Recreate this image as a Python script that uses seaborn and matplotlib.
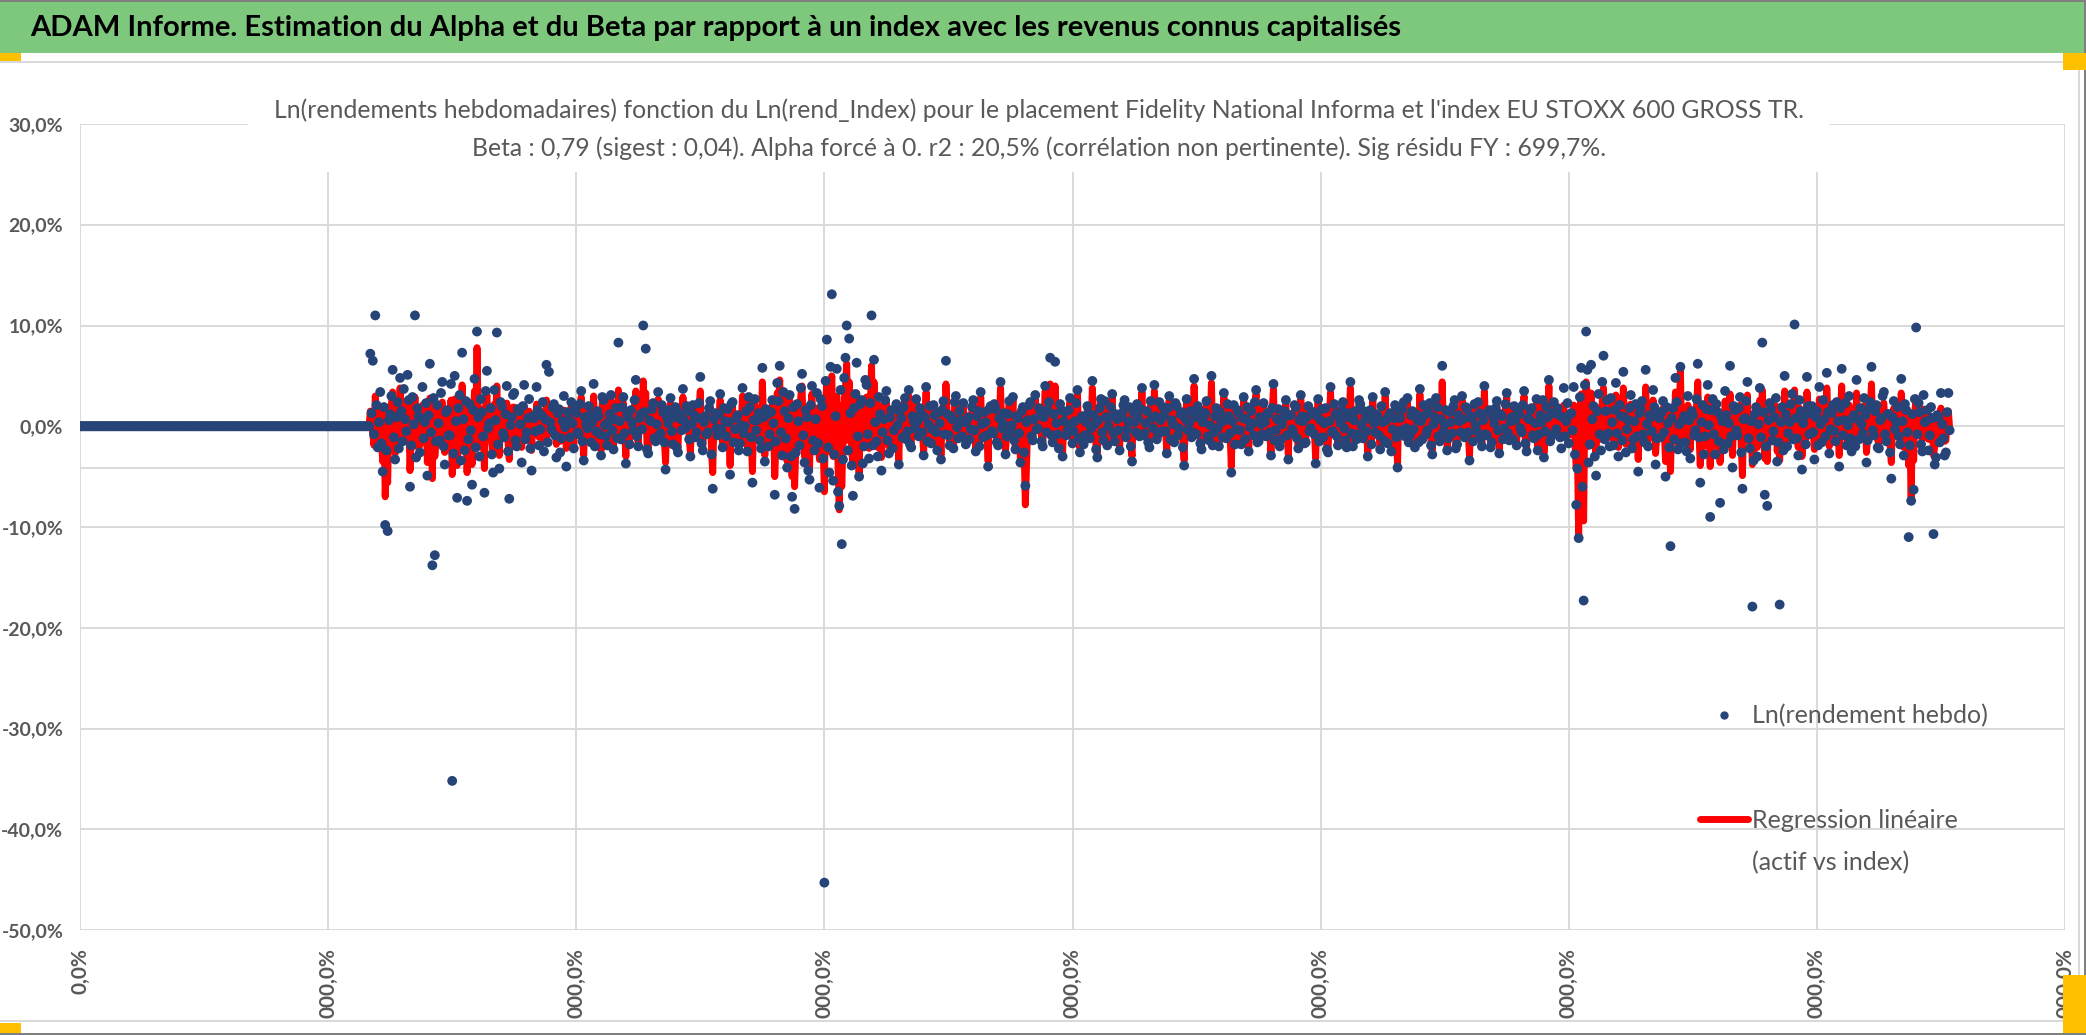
import numpy as np
import pandas as pd
import matplotlib.pyplot as plt
import seaborn as sns
from matplotlib.patches import Rectangle
from matplotlib.lines import Line2D

# -------------------------------
# Donnees (en %), une valeur par semaine
# -------------------------------
# semaines avant la cotation : rendement nul
avant_cotation = [
    0, 0, 0, 0, 0, 0, 0, 0, 0, 0, 0, 0, 0, 0, 0, 0, 0, 0, 0, 0,
    0, 0, 0, 0, 0, 0, 0, 0, 0, 0, 0, 0, 0, 0, 0, 0, 0, 0, 0, 0,
    0, 0, 0, 0, 0, 0, 0, 0, 0, 0, 0, 0, 0, 0, 0, 0, 0, 0, 0, 0,
    0, 0, 0, 0, 0, 0, 0, 0, 0, 0, 0, 0, 0, 0, 0, 0, 0, 0, 0, 0,
    0, 0, 0, 0, 0, 0, 0, 0, 0, 0, 0, 0, 0, 0, 0, 0, 0, 0, 0, 0,
    0, 0, 0, 0, 0, 0, 0, 0, 0, 0, 0, 0, 0, 0, 0, 0, 0, 0, 0, 0,
    0, 0, 0, 0, 0, 0, 0, 0, 0, 0, 0, 0, 0, 0, 0, 0, 0, 0, 0, 0,
    0, 0, 0, 0, 0, 0, 0, 0, 0, 0, 0, 0, 0, 0, 0, 0, 0, 0, 0, 0,
    0, 0, 0, 0, 0, 0, 0, 0, 0, 0, 0, 0, 0, 0, 0, 0, 0, 0, 0, 0,
    0, 0, 0, 0, 0, 0, 0, 0, 0, 0, 0, 0, 0, 0, 0, 0, 0, 0, 0, 0,
    0, 0, 0, 0, 0, 0, 0, 0, 0, 0, 0, 0, 0, 0, 0, 0, 0, 0, 0, 0,
    0, 0, 0, 0, 0, 0, 0, 0, 0, 0, 0, 0, 0, 0,
]

# Ln(rendement hebdo) de l'actif
rend_actif = [
    7.2, 1.3, 6.5, -0.8, 11.0, 2.1, -2.1, 0.4, 3.4, -1.7, -4.5, 1.9, -9.8, -2.4, -10.4, 0.6, 1.2, 3.0, 5.6, -1.1,
    -3.3, 0.9, 2.4, -2.2, 4.8, 1.5, -1.5, 3.7, 0.7, -0.5, 5.1, 2.6, -6.0, -1.9, 2.9, 0.2, 11.0, -3.1, 1.8, 1.0,
    -2.6, 0.8, 3.9, -1.2, 0.4, 2.3, -4.9, 1.1, 6.2, -0.6, -13.8, 2.8, -12.8, -1.5, 2.1, 0.3, -1.4, 3.3, 4.4, -2.0,
    -3.8, 1.4, 1.6, -0.9, -0.9, 4.2, -35.2, -2.7, 5.0, 0.5, -7.1, 1.8, 3.1, -3.4, 7.3, 0.7, -2.4, 2.5, -7.4, -1.3,
    2.2, -0.4, -5.8, 1.6, 4.7, -2.1, 9.4, 0.9, -3.0, 2.7, 1.4, -1.0, -6.6, 3.5, 5.5, -0.2, 0.3, 1.8, -2.8, -4.6,
    3.6, 0.6, 9.3, -1.8, -4.2, 2.4, 2.0, -0.7, -1.1, 1.2, 4.0, -2.5, -7.2, 0.1, 0.9, 3.1, 3.3, -1.4, -2.0, 1.7,
    1.5, 0.2, -3.6, 2.0, 4.1, -1.3, -0.6, 0.8, 2.7, -2.2, -4.4, 1.0, 0.8, -0.5, 3.9, 1.6, -1.9, -0.3, 1.1, 2.4,
    -2.5, 0.7, 6.1, -1.6, 5.4, 0.4, -0.3, 1.9, 2.2, -0.9, -3.1, 1.3, 1.7, -2.6, -1.2, 0.5, 3.0, -0.1, -4.0, 1.4,
    0.6, -1.1, 2.4, 0.3, -2.2, 1.7, 1.3, -0.6, -0.8, 2.2, 3.5, -1.5, -3.4, 0.9, 0.2, -0.2, 2.0, 1.1, -1.6, 0.4,
    4.2, -2.0, -0.5, 1.5, 1.0, -0.8, -2.9, 2.9, 2.6, 0.1, -1.0, -1.9, 0.4, 1.2, 3.1, -0.4, -2.3, 0.7, 1.8, -1.2,
    8.3, 0.5, -1.3, 1.9, 2.9, -0.7, -3.7, 1.2, 0.9, -1.8, 1.6, 0.3, -0.4, 2.6, 4.6, -1.0, -2.0, 0.8, 1.2, -0.3,
    10.0, 1.4, 7.7, -2.3, -2.7, 0.6, 0.5, 1.7, 2.3, -1.2, -1.5, 0.2, 3.4, -0.9, -0.7, 2.1, 1.4, -1.6, -4.3, 0.9,
    0.3, 1.6, 2.8, -0.5, -1.8, 0.9, 1.9, -2.1, -2.6, 1.3, 0.7, -0.4, 3.7, 0.6, -0.2, 2.0, 1.5, -1.3, -3.0, 0.2,
    2.1, 1.1, -1.1, -0.6, 0.8, 2.3, 4.9, -1.7, -2.4, 0.4, 1.0, -0.8, -0.6, 1.8, 2.5, -2.8, -6.2, 0.7, 1.3, -0.2,
    -0.9, 1.2, 3.2, -0.3, -2.1, 1.8, 0.5, -1.0, 1.7, 0.4, -4.8, 2.2, 2.4, -1.6, -0.3, 0.8, 1.1, -2.4, -1.7, 0.1,
    3.8, -0.7, 0.0, 1.5, -2.5, 2.9, 1.9, -1.1, -5.6, 0.6, 2.7, -0.4, 0.6, 1.3, -1.4, -2.2, 5.8, 0.9, -3.5, 1.7,
    1.2, -2.0, -0.8, 1.4, 2.6, 0.3, -6.8, -1.5, 4.3, 2.5, 6.0, -0.6, -2.9, 3.4, 1.5, -1.2, -4.1, 0.8, 3.1, -3.0,
    -7.0, 1.9, -8.2, -2.6, 2.2, 0.5, -1.9, 3.8, 5.2, -0.9, -3.6, 1.6, 0.9, -4.4, -5.3, 2.1, 4.0, -1.4, -2.4, 0.7,
    3.3, -1.7, -6.1, 2.7, 2.0, -3.2, -45.3, 4.5, 8.6, -2.1, -4.6, 5.9, 13.1, -5.4, -2.8, 1.0, 5.7, -6.5, -7.9, 3.6,
    -11.7, -3.3, 4.8, 6.8, 10.0, -2.4, 8.7, 1.3, -3.9, -6.9, 1.8, 3.2, 6.3, -1.0, -5.0, 2.2, 2.6, -3.7, -2.0, 4.6,
    4.1, -0.8, -3.2, 2.3, 11.0, -1.9, 6.6, 0.4, -1.5, -3.0, 2.9, 1.2, -4.4, -0.6, 0.7, 2.6, 3.5, -1.4, -2.7, 0.9,
    1.6, -2.2, -0.4, 1.7, 2.2, 0.1, -3.8, 1.5, 0.8, -1.1, 1.9, 2.8, -1.3, -0.5, 3.6, -1.8, -2.1, 1.0, 0.5, -0.2,
    2.7, 0.5, -1.0, 1.8, 1.3, -0.6, -2.9, 0.9, 3.9, -1.5, 0.2, 2.0, -1.7, -0.3, 2.1, 1.1, -0.6, -2.4, 1.4, 0.3,
    -3.3, 1.6, 2.5, -0.8, 6.5, 1.2, -0.9, -1.9, 1.0, 0.7, -2.2, 2.4, 3.0, -0.1, -1.2, 1.5, 0.6, -1.0, 2.3, 0.4,
    -1.8, 0.6, 0.9, -1.3, -0.3, 1.9, 2.6, -0.4, -2.5, 1.0, 1.5, -2.0, 3.4, 0.2, -1.1, 1.4, 0.4, -0.9, -4.0, 1.7,
    2.0, -0.5, -0.7, 2.2, 1.7, -1.6, -1.9, 0.8, 4.4, -0.2, 0.3, 1.3, -2.8, -1.0, 1.2, 2.5, -0.5, 0.1, 2.9, -1.4,
    -2.3, 1.0, 0.8, -0.7, -3.6, 1.5, 1.9, -2.6, -5.9, 0.4, 0.6, 2.1, 2.4, -1.0, -1.4, 0.7, 3.1, -0.3, -0.2, 1.8,
    1.1, -1.5, -2.0, 0.9, 4.0, -0.6, 1.6, 2.4, 6.8, -0.9, -1.6, 1.2, 6.4, 0.3, -0.8, -2.2, 2.2, 1.6, -3.0, 0.5,
    1.4, -0.9, -0.4, 1.6, 2.8, 0.2, -1.7, -0.5, 0.5, 2.3, 3.6, -1.2, -2.6, 0.8, 1.0, -1.8, -0.9, 0.4, 2.0, 1.3,
    -1.2, -0.2, 4.5, 1.1, 0.2, -2.3, -3.1, 0.6, 1.8, 2.7, -0.6, -1.4, 2.5, 0.9, -1.9, 0.0, 0.9, 1.9, 3.2, -0.7,
    -1.5, 1.2, 0.7, -0.4, -2.4, 0.9, 1.3, 2.1, 2.6, -1.1, -0.3, 0.5, 1.9, -2.0, -3.5, 1.4, 0.4, -0.6, 2.2, 0.8,
    -1.0, 1.7, 3.8, -0.9, -0.7, 0.3, 1.5, -1.6, -2.1, 2.5, 0.8, -0.2, 4.1, 1.0, -1.3, -0.8, 2.4, 0.6, -0.5, 1.9,
    1.1, -0.5, -2.7, 1.8, 3.0, -1.3, 0.6, 0.2, -1.6, 2.3, 2.0, -0.9, -0.2, 1.2, 1.4, -2.1, -3.9, 0.7, 2.7, -0.4,
    0.3, 1.5, -1.1, -0.6, 4.7, 0.9, -0.8, 2.0, 1.6, -1.7, -2.3, 0.4, 0.9, 1.3, 2.5, -1.0, -1.4, 0.1, 5.0, -1.9,
    -0.6, 1.0, 1.8, -0.2, -2.0, 1.4, 0.4, -1.1, 3.3, 0.6, -1.2, 2.2, 1.0, -0.7, -4.6, 0.5, 2.1, -1.8, -0.3, 1.6,
    1.3, -0.4, -1.8, 0.8, 2.9, -1.3, 0.7, 1.9, -2.5, -0.1, 1.5, 0.3, -0.9, 2.4, 3.6, -1.6, -1.5, 0.9, 0.2, -0.8,
    2.3, 0.4, -1.0, 1.3, 1.2, -0.6, -2.9, 1.8, 4.2, -1.4, -0.4, 0.7, 1.7, -2.0, -1.3, 0.2, 0.8, 1.5, 2.6, -0.9,
    -3.3, 1.1, 1.1, -0.3, -0.7, 2.1, 1.9, -1.2, -2.2, 0.6, 3.1, 1.0, 0.5, -1.7, -1.6, 0.9, 2.0, -0.5, -0.2, 1.4,
    1.4, -0.8, -3.7, 1.0, 2.7, -1.5, 0.6, 1.7, -1.1, 0.3, 1.8, -2.3, -2.6, 0.5, 3.9, -0.6, -0.5, 2.2, 1.2, -1.0,
    -1.9, 0.8, 0.3, 1.6, 2.4, -0.2, -1.4, -2.1, 0.9, 1.3, 4.4, -0.7, -2.0, 0.6, 1.5, -1.3, -0.8, 2.6, 2.2, 0.1,
    -1.2, 1.5, 0.7, -0.5, -3.0, 0.9, 1.6, -1.8, 2.9, 0.3, -0.6, 1.2, 1.0, -0.9, -2.3, 2.0, 0.4, -1.4, 3.4, 0.6,
    -1.7, 1.0, 1.3, -2.5, -0.3, 0.8, 2.1, -1.1, -4.1, 1.7, 0.8, -0.4, 1.7, 2.4, -1.0, -0.2, 2.8, -1.6, -0.9, 1.1,
    1.5, -0.3, -2.1, 1.2, 0.6, -1.6, 3.7, 0.5, -1.3, 2.1, 1.1, -0.8, -0.4, 1.4, 2.3, -1.9, -2.8, 0.2, 0.9, 2.8,
    1.9, -1.0, -1.5, 0.7, 6.0, -0.5, 0.2, 1.6, -2.4, -1.2, 1.4, 0.4, -0.7, 2.0, 2.6, -2.2, -1.8, 1.1, 0.5, -0.6,
    3.0, 0.7, -1.1, 1.9, 1.7, -0.6, -3.4, 1.0, 0.8, -1.5, 2.2, 0.1, -0.5, 2.4, 1.3, -1.2, -2.0, 0.6, 4.0, -0.8,
    -0.9, 1.4, 1.6, -2.1, -1.6, 0.9, 0.3, 1.8, 2.5, -0.4, -2.7, 1.2, 1.0, -1.3, -0.2, 2.2, 3.3, -0.7, -1.4, 0.5,
    0.9, -1.3, 2.0, 0.6, -1.9, 1.5, 1.2, -0.2, -0.6, 2.1, 3.5, -1.7, -2.5, 0.8, 0.7, 1.6, 1.8, -0.9, -1.2, 0.3,
    2.7, -2.4, -0.8, 1.1, 0.4, 2.6, -3.1, -0.5, 1.9, 0.9, 4.6, -1.5, -1.0, 1.3, 2.4, -0.6, -0.3, 1.8, 1.1, -1.1,
    -2.2, 0.9, 3.8, -1.0, 0.5, 2.3, -1.7, 1.2, 1.3, -0.4, 3.9, -2.8, -7.8, -4.2, -11.1, 2.9, 5.8, -6.0, -17.3, 4.1,
    9.4, 5.6, -3.6, -1.8, 6.1, 0.7, 2.0, -3.0, -4.9, 1.5, 3.2, -0.8, -2.4, 4.4, 7.0, -1.3, 1.5, 2.6, -0.7, -2.0,
    2.8, 0.4, -1.9, 1.6, 4.3, -0.7, -3.0, 2.1, 1.0, -1.4, 5.4, 0.9, -2.6, -0.3, 0.6, 1.8, 3.1, -2.2, -1.3, 0.5,
    2.2, -1.0, -4.5, 1.3, 1.7, 2.5, -0.8, -1.6, 5.6, 0.2, -2.0, 1.1, 0.9, -0.5, 3.6, 1.9, -3.8, -1.2, 1.4, 0.8,
    -1.1, 1.4, 2.5, -0.6, -5.0, 1.9, 0.3, -2.1, -11.9, 0.8, 1.8, -1.3, 4.8, 2.4, -2.3, 0.2, 5.9, -1.7, 0.6, 1.0,
    -1.6, -2.5, 3.0, 0.6, -3.2, 1.5, 1.1, -0.9, -0.4, 2.7, 6.2, -1.1, -5.6, 0.4, 2.1, -2.8, -1.0, 1.7, 4.1, 0.1,
    -9.0, 1.6, 2.7, -0.8, -2.8, 2.2, 1.4, -1.5, -7.6, 0.9, 0.5, -2.3, 3.5, 1.1, -1.7, 0.3, 6.0, -1.0, -4.1, 2.0,
    1.6, -0.4, -0.9, 1.8, 2.9, -2.6, -6.2, 0.7, 0.8, 2.5, 4.4, -1.2, -2.2, 0.5, -17.9, -3.4, 1.2, 1.9, -3.0, 0.2,
    3.8, -1.1, 8.3, 1.4, -6.8, -2.0, -7.9, 0.6, 2.3, 1.7, -1.4, -0.5, 0.9, 2.8, -3.5, -1.6, -17.7, 0.4, 1.9, -2.4,
    5.0, 1.2, -2.0, -0.7, 0.4, 2.2, 3.2, -1.3, 10.1, 0.8, -1.2, -2.9, 2.6, 1.5, -4.3, 0.3, 1.0, -1.8, 4.9, 2.0,
    -0.8, 1.3, 2.0, -0.6, -3.3, 0.9, 1.5, -1.9, 3.9, 0.2, -1.6, 2.6, 0.7, -1.0, 5.3, 1.4, -2.7, -0.3, 1.3, 2.1,
    -0.5, -1.5, 2.4, 0.5, -4.0, 1.8, 5.7, -0.9, 0.6, 2.3, -1.9, 0.1, 3.0, -1.2, -2.5, 0.8, 1.1, -2.0, 4.6, 0.7,
    -1.3, 1.8, 0.2, -0.7, 2.8, 1.1, -3.6, -1.4, 1.7, 2.4, 5.9, -0.4, -0.9, 1.5, 2.1, -2.1, -2.2, 0.6, 0.8, 3.0,
    3.4, -0.8, -1.5, 1.2, 1.2, -2.6, -5.2, 0.9, 2.5, -0.3, 0.4, 1.9, -1.0, -1.8, 4.7, 0.5, -2.9, 2.2, 1.6, -0.6,
    -11.0, -1.9, -7.4, 1.2, -6.3, 2.7, 9.8, -0.8, 2.3, 1.4, -1.8, -2.5, 3.1, 0.4, 0.5, 1.6, -2.4, -0.9, 1.9, 0.8,
    -10.7, -3.8, -3.1, 1.1, 0.9, -1.6, 3.3, 0.2, -1.2, -2.9, -2.6, 1.4, 3.3, -0.4,
]

# Regression lineaire (beta x rendement de l'index)
rend_regression = [
    1.5, 0.6, -0.8, -1.9, 3.0, 1.2, -2.2, 0.3, 1.8, -1.4, -3.5, 2.0, -7.0, -2.9, -5.6, 1.1, 0.9, 2.2, 3.4, -0.7,
    -2.7, 1.6, 1.1, -1.8, 3.8, 0.5, -1.0, 2.4, 0.4, -0.9, 2.6, 1.3, -4.4, -1.2, 1.5, 0.2, 2.9, -2.0, 0.8, 0.6,
    -1.9, 0.7, 2.1, -0.9, -0.3, 1.5, -3.6, 0.8, 2.8, -0.2, -5.2, 2.0, -3.0, -1.0, 1.3, 0.4, -1.1, 1.9, 2.4, -1.4,
    -2.6, 1.0, 0.7, -0.8, -0.5, 2.6, -4.8, -1.6, 2.7, 0.3, -3.9, 1.2, 1.6, -2.1, 4.1, 0.5, -1.7, 1.8, -4.6, -0.6,
    1.4, -0.3, -3.8, 1.0, 3.5, -1.2, 7.8, 0.6, -2.0, 1.7, 0.8, -0.7, -4.2, 2.1, 3.1, 0.0, 0.2, 1.1, -1.6, -2.5,
    2.2, 0.4, 4.0, -1.0, -2.9, 1.4, 1.0, -0.4, -0.6, 0.8, 2.3, -1.5, -3.3, 0.1, 0.5, 1.9, 1.9, -0.8, -1.2, 1.0,
    0.9, 0.1, -2.1, 1.1, 2.0, -0.8, -0.4, 0.5, 1.5, -1.3, -2.4, 0.6, 0.5, -0.3, 2.2, 0.9, -1.1, -0.2, 0.6, 1.4,
    -1.5, 0.4, 2.6, -0.9, 2.1, 0.2, -0.2, 1.1, 1.1, -0.5, -1.8, 0.7, 1.0, -1.5, -0.7, 0.3, 1.6, 0.0, -2.2, 0.8,
    0.6, -0.9, 2.0, 0.3, -1.8, 1.5, 1.2, -0.5, -0.8, 1.8, 2.9, -1.2, -2.9, 0.8, 0.2, -0.2, 1.7, 0.9, -1.4, 0.3,
    3.0, -1.7, -0.5, 1.2, 0.9, -0.6, -2.4, 2.3, 2.1, 0.2, -0.9, -1.5, 0.3, 1.1, 2.6, -0.3, -2.0, 0.6, 1.5, -1.1,
    3.6, 0.5, -1.2, 1.5, 2.3, -0.6, -3.0, 1.1, 0.8, -1.5, 1.4, 0.3, -0.3, 2.1, 3.5, -0.9, -1.7, 0.8, 1.1, -0.3,
    4.5, 1.2, 3.3, -1.8, -2.3, 0.5, 0.5, 1.4, 1.8, -1.1, -1.4, 0.2, 2.7, -0.8, -0.6, 1.7, 1.2, -1.4, -3.6, 0.8,
    0.3, 1.4, 2.3, -0.5, -1.5, 0.8, 1.5, -1.7, -2.1, 1.1, 0.6, -0.3, 2.9, 0.5, -0.2, 1.7, 1.2, -1.1, -2.6, 0.2,
    1.7, 0.9, -0.9, -0.5, 0.8, 1.8, 3.5, -1.4, -2.0, 0.3, 0.9, -0.6, -0.5, 1.5, 2.0, -2.3, -4.6, 0.6, 1.1, -0.2,
    -0.8, 0.9, 2.6, -0.3, -1.8, 1.5, 0.5, -0.8, 1.4, 0.3, -3.9, 1.8, 2.0, -1.2, -0.3, 0.6, 0.9, -2.0, -1.5, 0.2,
    3.0, -0.6, 0.0, 1.2, -2.1, 2.3, 1.5, -0.9, -4.5, 0.5, 2.1, -0.3, 0.5, 1.1, -1.2, -1.8, 4.4, 0.8, -2.9, 1.4,
    1.1, -1.7, -0.8, 1.2, 2.1, 0.3, -5.0, -1.4, 3.3, 2.1, 4.6, -0.6, -2.4, 2.7, 1.2, -1.1, -3.5, 0.8, 2.6, -2.6,
    -5.0, 1.5, -6.0, -2.1, 1.8, 0.5, -1.7, 3.0, 4.0, -0.8, -3.0, 1.4, 0.8, -3.6, -4.4, 1.8, 3.2, -1.2, -2.0, 0.6,
    1.8, -1.0, -3.3, 1.5, 1.1, -1.9, -6.5, 2.6, 4.2, -1.2, -2.5, 3.4, 5.0, -3.0, -1.5, 0.6, 3.0, -3.8, -8.3, 2.0,
    -6.0, -1.8, 2.6, 3.9, 6.2, -1.4, 4.4, 0.7, -2.1, -3.9, 1.0, 1.8, 3.3, -0.6, -4.7, 1.2, 1.4, -2.1, -1.1, 2.5,
    2.9, -0.7, -2.2, 1.7, 6.0, -1.3, 4.4, 0.3, -1.0, -2.1, 2.1, 0.9, -3.1, -0.4, 0.5, 2.0, 2.5, -1.0, -2.0, 0.7,
    1.4, -1.9, -0.3, 1.6, 1.9, 0.0, -3.4, 1.4, 0.6, -1.0, 1.6, 2.6, -1.1, -0.5, 3.0, -1.6, -1.8, 1.0, 0.5, -0.2,
    2.4, 0.5, -1.0, 1.6, 1.1, -0.5, -2.6, 0.8, 3.4, -1.3, 0.2, 1.8, -1.4, -0.3, 1.8, 1.0, -0.5, -2.1, 1.3, 0.3,
    -2.9, 1.4, 2.2, -0.6, 4.2, 1.1, -0.8, -1.6, 0.8, 0.6, -1.9, 2.1, 2.6, -0.2, -1.0, 1.3, 0.5, -0.8, 1.9, 0.3,
    -1.6, 0.5, 0.8, -1.1, -0.3, 1.6, 2.2, -0.3, -2.2, 0.8, 1.3, -1.8, 2.9, 0.2, -1.0, 1.3, 0.3, -0.8, -3.5, 1.4,
    1.8, -0.5, -0.6, 1.9, 1.4, -1.4, -1.6, 0.6, 3.8, -0.2, 0.3, 1.1, -2.4, -0.8, 1.1, 2.2, -0.5, 0.0, 2.6, -1.3,
    -2.1, 0.8, 0.6, -0.6, -3.2, 1.3, 1.6, -2.2, -7.8, -3.7, 0.5, 1.8, 2.1, -0.8, -1.3, 0.6, 2.7, -0.3, -0.2, 1.6,
    1.0, -1.3, -1.8, 0.8, 3.5, -0.5, 1.4, 2.1, 4.2, -0.8, -1.4, 1.0, 4.0, 0.3, -0.6, -1.9, 1.9, 1.4, -2.7, 0.5,
    1.3, -0.8, -0.3, 1.4, 2.4, 0.2, -1.4, -0.5, 0.5, 1.9, 3.2, -1.1, -2.2, 0.6, 0.8, -1.6, -0.8, 0.3, 1.8, 1.1,
    -1.1, -0.2, 3.8, 1.0, 0.2, -2.1, -2.7, 0.5, 1.6, 2.4, -0.5, -1.3, 2.2, 0.8, -1.6, 0.0, 0.8, 1.6, 2.9, -0.6,
    -1.3, 1.1, 0.6, -0.3, -2.1, 0.8, 1.1, 1.9, 2.2, -1.0, -0.3, 0.5, 1.6, -1.8, -3.0, 1.3, 0.3, -0.5, 1.9, 0.6,
    -0.8, 1.4, 3.4, -0.8, -0.6, 0.3, 1.3, -1.4, -1.9, 2.2, 0.6, -0.2, 3.5, 1.0, -1.1, -0.6, 2.1, 0.5, -0.5, 1.6,
    1.0, -0.5, -2.4, 1.6, 2.6, -1.1, 0.5, 0.2, -1.4, 2.1, 1.8, -0.8, -0.2, 1.1, 1.3, -1.9, -3.4, 0.6, 2.4, -0.3,
    0.3, 1.3, -1.0, -0.5, 4.0, 0.8, -0.6, 1.8, 1.4, -1.4, -2.1, 0.3, 0.8, 1.1, 2.2, -1.0, -1.3, 0.2, 4.3, -1.6,
    -0.5, 1.0, 1.6, -0.2, -1.8, 1.3, 0.3, -1.0, 2.9, 0.5, -1.1, 1.9, 0.8, -0.6, -4.0, 0.5, 1.8, -1.6, -0.3, 1.4,
    1.1, -0.3, -1.6, 0.6, 2.6, -1.1, 0.6, 1.6, -2.2, 0.0, 1.3, 0.3, -0.8, 2.1, 3.2, -1.4, -1.3, 0.8, 0.2, -0.6,
    2.1, 0.3, -0.8, 1.1, 1.1, -0.5, -2.6, 1.6, 3.7, -1.3, -0.3, 0.6, 1.4, -1.8, -1.1, 0.2, 0.6, 1.3, 2.2, -0.8,
    -2.9, 1.0, 1.0, -0.3, -0.6, 1.9, 1.6, -1.1, -1.9, 0.5, 2.7, 0.8, 0.5, -1.4, -1.4, 0.8, 1.8, -0.5, -0.2, 1.3,
    1.3, -0.6, -3.2, 1.0, 2.4, -1.3, 0.5, 1.6, -1.0, 0.3, 1.6, -1.9, -2.2, 0.5, 3.4, -0.5, -0.5, 1.9, 1.1, -0.8,
    -1.6, 0.6, 0.3, 1.4, 2.1, -0.2, -1.3, -1.8, 0.8, 1.1, 3.8, -0.6, -1.8, 0.5, 1.3, -1.1, -0.6, 2.2, 1.9, 0.2,
    -1.1, 1.3, 0.6, -0.5, -2.6, 0.8, 1.4, -1.6, 2.6, 0.3, -0.5, 1.1, 0.8, -0.8, -2.1, 1.8, 0.3, -1.3, 3.0, 0.5,
    -1.4, 0.8, 1.1, -2.2, -0.3, 0.6, 1.8, -1.0, -3.7, 1.4, 0.6, -0.3, 1.4, 2.1, -0.8, -0.2, 2.4, -1.4, -0.8, 1.0,
    1.3, -0.3, -1.9, 1.1, 0.5, -1.4, 3.2, 0.5, -1.1, 1.8, 1.0, -0.6, -0.3, 1.3, 2.1, -1.6, -2.4, 0.2, 0.8, 2.4,
    1.6, -0.8, -1.3, 0.6, 4.4, -0.5, 0.2, 1.4, -2.1, -1.0, 1.3, 0.3, -0.6, 1.8, 2.2, -1.9, -1.6, 1.0, 0.5, -0.5,
    2.6, 0.6, -1.0, 1.6, 1.4, -0.5, -3.0, 0.8, 0.6, -1.3, 1.9, 0.2, -0.5, 2.1, 1.1, -1.1, -1.8, 0.5, 3.5, -0.6,
    -0.8, 1.3, 1.4, -1.9, -1.4, 0.8, 0.3, 1.6, 2.2, -0.3, -2.4, 1.0, 0.8, -1.1, -0.2, 1.9, 2.9, -0.6, -1.3, 0.5,
    0.8, -1.1, 1.8, 0.5, -1.6, 1.3, 1.1, -0.2, -0.5, 1.8, 3.0, -1.4, -2.2, 0.6, 0.6, 1.4, 1.6, -0.8, -1.1, 0.3,
    2.4, -2.1, -0.6, 1.0, 0.3, 2.2, -2.7, -0.5, 1.6, 0.8, 4.0, -1.3, -1.0, 1.1, 2.1, -0.5, -0.3, 1.6, 1.0, -1.0,
    -1.2, 0.5, 2.1, -0.6, 0.3, 1.2, -0.9, 0.6, 0.7, -0.2, 2.1, -1.6, -4.2, -2.5, -11.1, 1.7, 3.2, -3.5, -9.4, 2.4,
    4.4, 3.0, -2.0, -1.0, 3.3, 0.4, 1.1, -1.8, -2.7, 0.8, 1.8, -0.5, -1.3, 2.5, 3.8, -0.7, 0.8, 1.4, -0.4, -1.1,
    2.0, 0.3, -1.3, 1.2, 3.1, -0.5, -2.1, 1.4, 0.7, -1.0, 3.8, 0.7, -1.8, -0.3, 0.4, 1.3, 2.2, -1.6, -0.9, 0.4,
    1.6, -0.8, -3.3, 0.9, 1.2, 1.8, -0.5, -1.2, 3.9, 0.1, -1.4, 0.8, 0.7, -0.4, 2.6, 1.3, -2.7, -0.9, 1.0, 0.5,
    -0.8, 1.0, 1.8, -0.4, -3.5, 1.3, 0.3, -1.6, -4.5, 0.5, 1.3, -0.9, 3.4, 1.7, -1.7, 0.1, 5.7, -1.2, 0.4, 0.7,
    -1.2, -1.8, 2.1, 0.4, -2.3, 1.0, 0.8, -0.7, -0.3, 2.0, 4.4, -0.8, -3.9, 0.3, 1.4, -2.0, -0.7, 1.2, 2.9, 0.0,
    -4.0, 1.2, 2.0, -0.5, -2.0, 1.6, 1.0, -1.0, -3.6, 0.7, 0.4, -1.7, 2.5, 0.8, -1.2, 0.3, 3.2, -0.7, -2.9, 1.4,
    1.2, -0.3, -0.7, 1.3, 2.1, -1.8, -4.9, 0.5, 0.5, 1.8, 3.1, -0.9, -1.6, 0.4, -3.8, -2.5, 0.9, 1.3, -2.1, 0.1,
    2.6, -0.8, 3.6, 1.0, -3.2, -1.4, -3.5, 0.4, 1.6, 1.2, -1.0, -0.4, 0.7, 2.0, -2.5, -1.2, -3.4, 0.3, 1.3, -1.7,
    3.5, 0.9, -1.4, -0.5, 0.3, 1.6, 2.2, -0.9, 3.6, 0.5, -0.9, -2.1, 1.8, 1.0, -3.0, 0.3, 0.8, -1.3, 3.4, 1.4,
    -0.5, 0.9, 1.4, -0.4, -2.3, 0.7, 1.0, -1.3, 2.7, 0.1, -1.2, 1.8, 0.5, -0.8, 3.8, 1.0, -2.0, -0.3, 0.9, 1.6,
    -0.4, -1.0, 1.7, 0.4, -2.9, 1.3, 4.0, -0.7, 0.4, 1.7, -1.3, 0.1, 2.1, -0.9, -1.8, 0.7, 0.8, -1.4, 3.3, 0.5,
    -0.9, 1.3, 0.1, -0.5, 2.0, 0.8, -2.6, -1.0, 1.2, 1.7, 4.2, -0.3, -0.7, 1.0, 1.4, -1.4, -1.6, 0.4, 0.5, 2.1,
    2.3, -0.5, -1.0, 0.9, 0.9, -1.8, -3.6, 0.7, 1.8, -0.3, 0.3, 1.3, -0.8, -1.3, 3.3, 0.4, -2.1, 1.6, 1.2, -0.4,
    -3.9, -1.0, -7.2, 0.7, -3.4, 1.5, 2.8, -0.4, 1.2, 0.8, -1.0, -1.3, 1.7, 0.2, 0.3, 0.9, -1.3, -0.5, 1.0, 0.4,
    -2.9, -2.0, -1.7, 0.6, 0.5, -0.8, 1.8, 0.1, -0.7, -1.5, -1.4, 0.7, 1.5, -0.2,
]

# axes : graduations et libelles tels qu'affiches (tronques dans l'original)
x_ticks = [0, 200, 400, 600, 800, 1000, 1200, 1400, 1600]
x_labels = ["0,0%", "000,0%", "000,0%", "000,0%", "000,0%",
            "000,0%", "000,0%", "000,0%", "000,0%"]
y_ticks = [-50, -40, -30, -20, -10, 0, 10, 20, 30]

titre = ("ADAM Informe. Estimation du Alpha et du Beta par rapport à un index "
         "avec les revenus connus capitalisés")
titre_l1 = ("Ln(rendements hebdomadaires) fonction du Ln(rend_Index) pour le placement "
            "Fidelity National Informa et l'index EU STOXX 600 GROSS TR.")
titre_l2 = ("Beta : 0,79 (sigest : 0,04). Alpha forcé à 0. r2 : 20,5% "
            "(corrélation non pertinente). Sig résidu FY : 699,7%.")

BLEU = "#264478"
ROUGE = "#FF0000"
GRIS_TXT = "#595959"
GRIS_GRILLE = "#D9D9D9"

actif = avant_cotation + rend_actif
regr = avant_cotation + rend_regression
df = pd.DataFrame({
    "semaine": np.arange(len(actif)),
    "actif": np.array(actif, dtype=float) / 100,
    "regression": np.array(regr, dtype=float) / 100,
})

# -------------------------------
# Figure
# -------------------------------
W, H = 2086, 1035
sns.set_theme(style="white")
plt.rcParams["font.family"] = ["Lato", "DejaVu Sans"]

fig = plt.figure(figsize=(W / 100, H / 100), dpi=100)
ax = fig.add_axes([80 / W, 1 - 930 / H, (2065 - 80) / W, (930 - 124) / H])

sns.lineplot(data=df, x="semaine", y="regression", ax=ax, color=ROUGE,
             linewidth=5, zorder=3, legend=False)
sns.scatterplot(data=df, x="semaine", y="actif", ax=ax, color=BLEU, s=50,
                edgecolor="none", linewidth=0, zorder=4, legend=False)

ax.set_xlim(0, 1600)
ax.set_ylim(-0.5, 0.3)
ax.set_xticks(x_ticks)
ax.set_yticks(np.array(y_ticks) / 100)
ax.set_xticklabels(x_labels, rotation=90)
ax.set_yticklabels([f"{v:.1f}".replace(".", ",") + "%" for v in y_ticks])
ax.set_xlabel("")
ax.set_ylabel("")
ax.tick_params(axis="x", length=0, pad=13, labelsize=15, labelcolor=GRIS_TXT)
ax.tick_params(axis="y", length=0, pad=12, labelsize=14, labelcolor=GRIS_TXT)
for lbl in ax.get_xticklabels() + ax.get_yticklabels():
    lbl.set_fontweight("bold")
ax.grid(True, color=GRIS_GRILLE, linewidth=1.4)
ax.set_axisbelow(True)
ax.axhline(-0.041, color=GRIS_GRILLE, linewidth=1.4, zorder=1)
for s in ax.spines.values():
    s.set_visible(False)

# legende
handles = [Line2D([], [], ls="none", marker="o", ms=5, color=BLEU),
           Line2D([], [], color=ROUGE, lw=5)]
ax.legend(handles, ["Ln(rendement hebdo)", "Regression linéaire"],
          loc="upper left", bbox_to_anchor=(1700 / W, 1 - 704 / H),
          bbox_transform=fig.transFigure, frameon=False, fontsize=18,
          handlelength=1.9, handletextpad=0.2, labelspacing=3.25,
          borderpad=0, borderaxespad=0, labelcolor=GRIS_TXT)
fig.text(1752 / W, 1 - 863 / H, "(actif vs index)", fontsize=18,
         color=GRIS_TXT, ha="left", va="center", zorder=6)

# cadre du titre du graphique
fig.add_artist(Rectangle((248 / W, 1 - 172 / H), (1830 - 248) / W, (172 - 70) / H,
                         transform=fig.transFigure, facecolor="white",
                         edgecolor="none", zorder=5))
fig.text(1039 / W, 1 - 110 / H, titre_l1, fontsize=17.8, color=GRIS_TXT,
         ha="center", va="center", zorder=6)
fig.text(1039 / W, 1 - 148 / H, titre_l2, fontsize=17.8, color=GRIS_TXT,
         ha="center", va="center", zorder=6)

# bandeau vert
fig.add_artist(Rectangle((0, 1 - 53 / H), 1, 53 / H, transform=fig.transFigure,
                         facecolor="#7EC87E", edgecolor="none", zorder=5))
fig.add_artist(Rectangle((0, 1 - 2 / H), 1, 2 / H, transform=fig.transFigure,
                         facecolor="#7F7F7F", edgecolor="none", zorder=6))
fig.text(30 / W, 1 - 28 / H, titre, fontsize=21, fontweight="bold",
         color="black", ha="left", va="center", zorder=6)
fig.add_artist(Rectangle((0, 1 - 63 / H), 1, 2 / H, transform=fig.transFigure,
                         facecolor=GRIS_GRILLE, edgecolor="none", zorder=5))

# bords de la zone graphique
fig.add_artist(Rectangle((0, 13 / H), 2080 / W, 2 / H, transform=fig.transFigure,
                         facecolor=GRIS_GRILLE, edgecolor="none", zorder=9))
fig.add_artist(Rectangle((0, 0), 1, 2 / H, transform=fig.transFigure,
                         facecolor="#7F7F7F", edgecolor="none", zorder=9))
fig.add_artist(Rectangle((2078 / W, 13 / H), 2 / W, (1022 - 63) / H,
                         transform=fig.transFigure, facecolor=GRIS_GRILLE,
                         edgecolor="none", zorder=9))
fig.add_artist(Rectangle((2084 / W, 0), 2 / W, 1, transform=fig.transFigure,
                         facecolor="#7F7F7F", edgecolor="none", zorder=9))

# poignees de selection
for (x0, y0, w, h) in [(0, 53, 21, 8), (2063, 53, 23, 17),
                       (0, 1023, 21, 10), (2063, 975, 23, 58)]:
    fig.add_artist(Rectangle((x0 / W, 1 - (y0 + h) / H), w / W, h / H,
                             transform=fig.transFigure, facecolor="#FFC000",
                             edgecolor="none", zorder=10))

fig.savefig("out.png", dpi=100)
